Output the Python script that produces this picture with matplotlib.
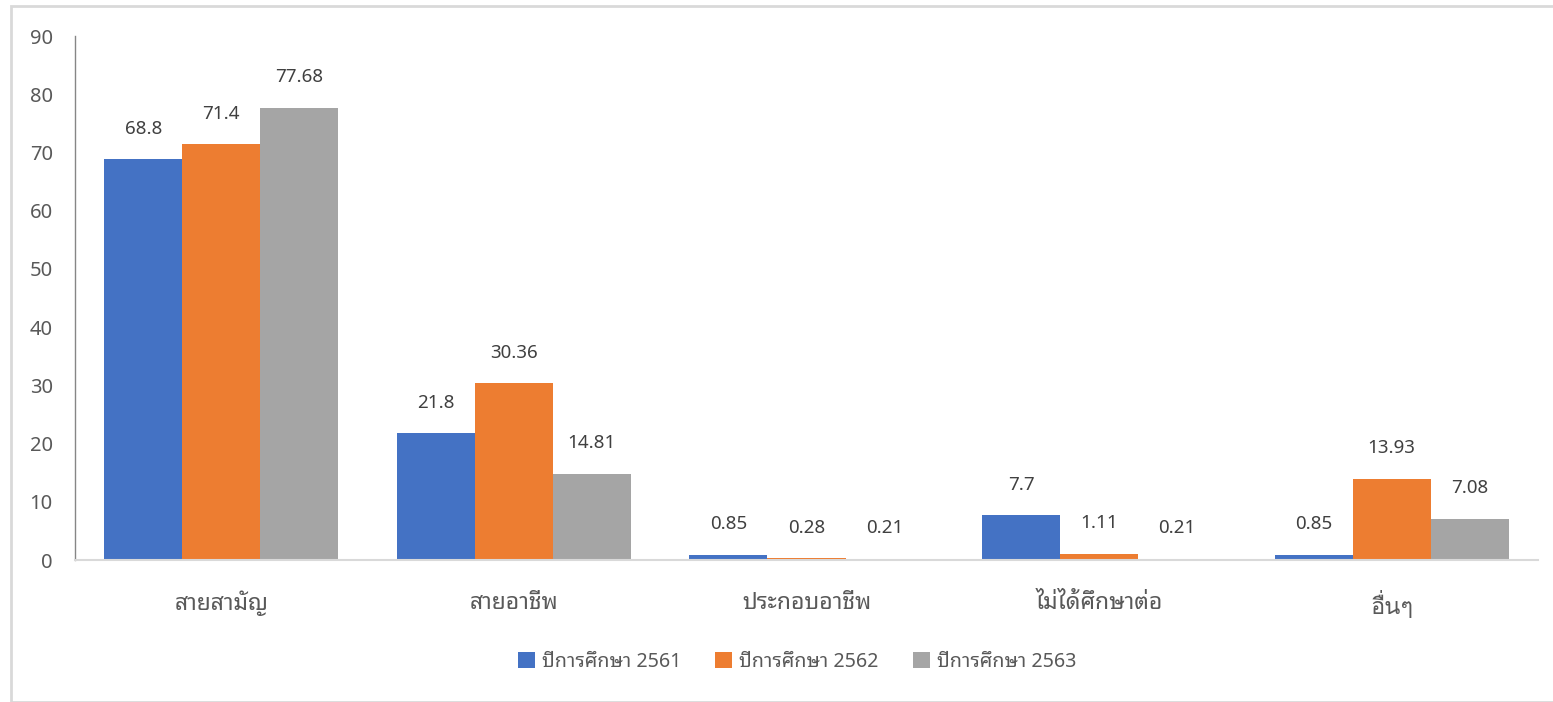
import matplotlib
matplotlib.use("Agg")
import matplotlib.pyplot as plt
import numpy as np
from matplotlib.patches import Rectangle

plt.rcParams['font.family'] = ['Noto Sans Thai Looped', 'DejaVu Sans']

categories = ["สายสามัญ", "สายอาชีพ", "ประกอบอาชีพ", "ไม่ได้ศึกษาต่อ", "อื่นๆ"]
series_names = ["ปีการศึกษา 2561", "ปีการศึกษา 2562", "ปีการศึกษา 2563"]
values_2561 = [68.8, 21.8, 0.85, 7.7, 0.85]
values_2562 = [71.4, 30.36, 0.28, 1.11, 13.93]
values_2563 = [77.68, 14.81, 0.21, 0.21, 7.08]
labels_2561 = ["68.8", "21.8", "0.85", "7.7", "0.85"]
labels_2562 = ["71.4", "30.36", "0.28", "1.11", "13.93"]
labels_2563 = ["77.68", "14.81", "0.21", "0.21", "7.08"]
colors = ["#4472C4", "#ED7D31", "#A5A5A5"]
yticks = [0, 10, 20, 30, 40, 50, 60, 70, 80, 90]

W, H = 1553, 702
fig = plt.figure(figsize=(W/100, H/100), dpi=100)
ax = fig.add_axes([75/W, 1-560/H, (1538-75)/W, (560-36)/H])

x = np.arange(len(categories))
bw = 0.2667
all_vals = [values_2561, values_2562, values_2563]
all_labs = [labels_2561, labels_2562, labels_2563]
handles = []
for i, (vals, labs) in enumerate(zip(all_vals, all_labs)):
    pos = x + (i - 1) * bw
    b = ax.bar(pos, vals, width=bw, color=colors[i], label=series_names[i], zorder=2)
    handles.append(b)
    for p, v, t in zip(pos, vals, labs):
        ax.annotate(t, (p, v), xytext=(0, 22), textcoords='offset points',
                    ha='center', va='center', fontsize=13.5, color='#404040')

ax.set_xlim(-0.5, len(categories) - 0.5)
ax.set_ylim(0, 90)
ax.set_yticks(yticks)
ax.set_yticklabels([str(t) for t in yticks], fontsize=14.5, color='#595959')
ax.set_xticks(x)
ax.set_xticklabels(categories, fontsize=16.5, color='#595959')
# Noto Sans Thai lacks shaping for a tone mark over an upper vowel; use Loma for that label
for lbl in ax.get_xticklabels():
    if lbl.get_text() == "อื่นๆ":
        lbl.set_fontfamily(['Loma', 'Noto Sans Thai Looped', 'DejaVu Sans'])
        lbl.set_fontsize(17)
ax.tick_params(axis='both', length=0)
ax.tick_params(axis='y', pad=16)
ax.tick_params(axis='x', pad=22)
for s in ['top', 'right']:
    ax.spines[s].set_visible(False)
ax.spines['left'].set_color('#868686')
ax.spines['left'].set_linewidth(1.0)
ax.spines['bottom'].set_color('#D9D9D9')
ax.spines['bottom'].set_linewidth(1.5)
ax.spines['bottom'].set_zorder(3)

leg = fig.legend(handles=handles, labels=series_names, loc='center',
                 bbox_to_anchor=(797/W, 1-662/H), ncol=3, frameon=False,
                 fontsize=14.2, handlelength=0.85, handleheight=0.85,
                 handletextpad=0.35, columnspacing=1.75)
for t in leg.get_texts():
    t.set_color('#595959')

fig.patches.append(Rectangle((11/W, 0), 1.0, 1-6/H, transform=fig.transFigure,
                             fill=False, edgecolor='#D9D9D9', linewidth=2))
fig.savefig("out.png", dpi=100)
